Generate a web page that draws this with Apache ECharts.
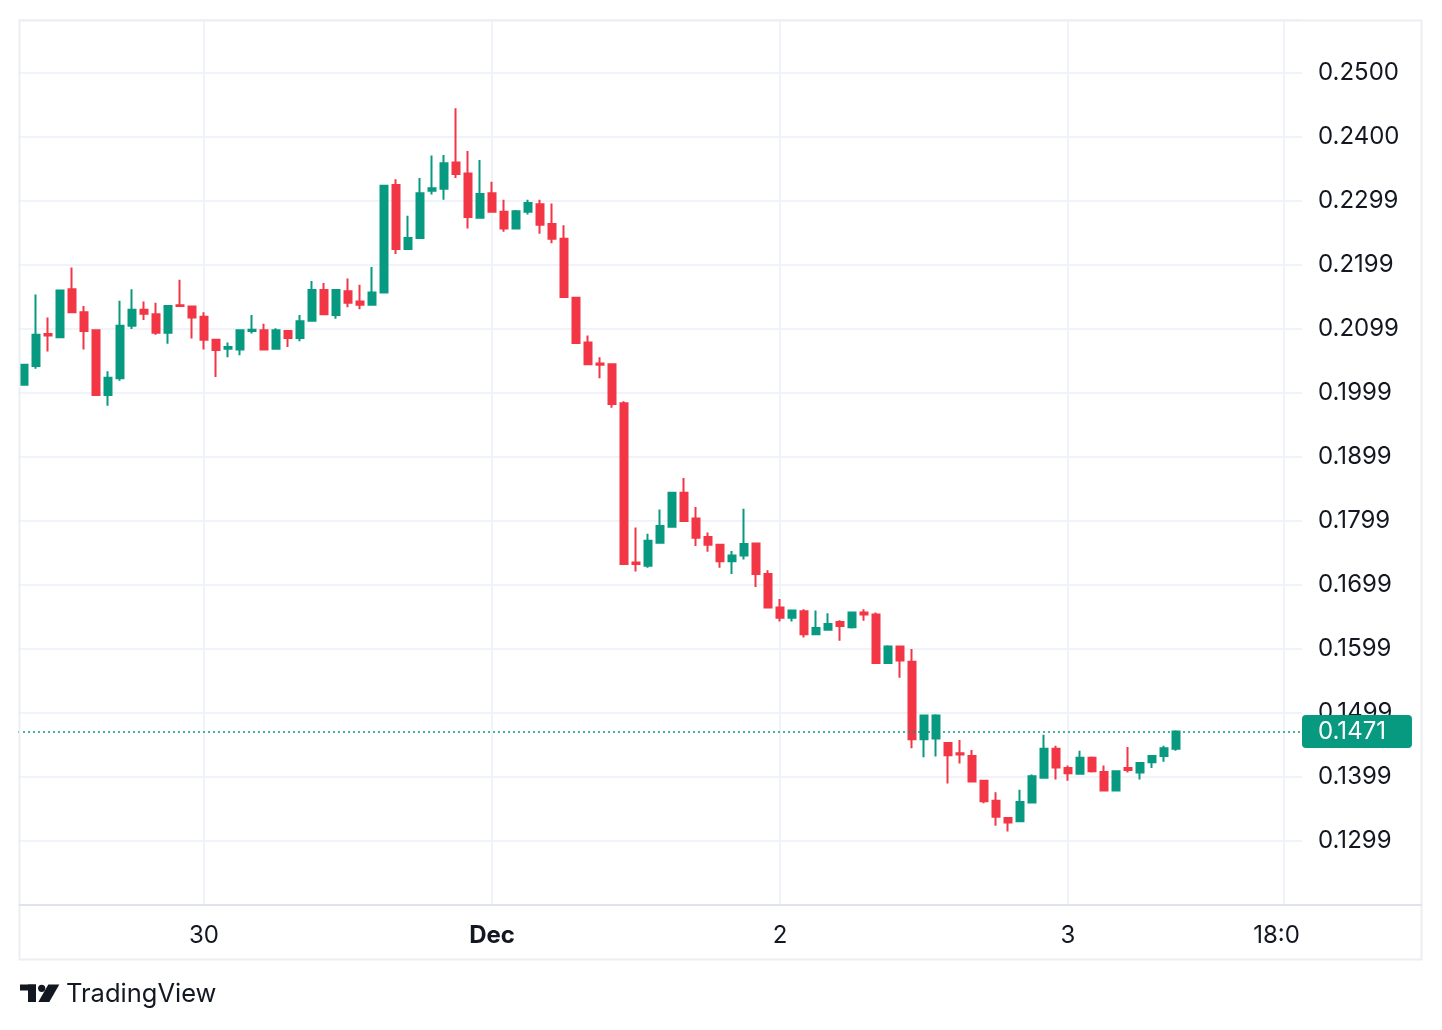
<!DOCTYPE html>
<html>
<head>
<meta charset="utf-8">
<script src="https://cdn.jsdelivr.net/npm/echarts@6/dist/echarts.min.js"></script>
<style>
html,body{margin:0;padding:0;background:#ffffff;}
#chart{width:1442px;height:1030px;}
</style>
</head>
<body>
<div id="chart"></div>
<script>
// Hourly candles, Nov 29 09:00 .. Dec 3 09:00
const opens  = [0.2013,0.2042,0.2092,0.2087,0.2162,0.2126,0.2098,0.1997,0.2023,0.2105,0.2130,0.2123,0.2094,0.2137,0.2135,0.2119,0.2083,0.2069,0.2068,0.2097,
                0.2098,0.2069,0.2097,0.2086,0.2113,0.2161,0.2122,0.2159,0.2143,0.2138,0.2157,0.2325,0.2225,0.2242,0.2316,0.2319,0.2360,0.2343,0.2274,0.2312,
                0.2283,0.2257,0.2283,0.2295,0.2264,0.2241,0.2149,0.2079,0.2046,0.2045,0.1984,0.1735,0.1730,0.1766,0.1791,0.1844,0.1804,0.1775,0.1763,0.1737,
                0.1746,0.1765,0.1717,0.1665,0.1649,0.1659,0.1623,0.1630,0.1642,0.1634,0.1657,0.1654,0.1578,0.1604,0.1580,0.1459,0.1460,0.1453,0.1437,0.1433,
                0.1394,0.1363,0.1336,0.1331,0.1360,0.1399,0.1444,0.1414,0.1405,0.1430,0.1408,0.1379,0.1414,0.1407,0.1423,0.1433,0.1444];
const closes = [0.2044,0.2091,0.2090,0.2160,0.2126,0.2097,0.1997,0.2024,0.2105,0.2130,0.2124,0.2094,0.2136,0.2136,0.2118,0.2083,0.2067,0.2072,0.2098,0.2099,
                0.2068,0.2098,0.2086,0.2112,0.2161,0.2123,0.2161,0.2141,0.2138,0.2157,0.2324,0.2225,0.2242,0.2312,0.2320,0.2359,0.2342,0.2275,0.2311,0.2283,
                0.2257,0.2284,0.2297,0.2263,0.2241,0.2150,0.2078,0.2045,0.2044,0.1983,0.1733,0.1733,0.1769,0.1792,0.1844,0.1800,0.1774,0.1763,0.1737,0.1746,
                0.1764,0.1717,0.1665,0.1649,0.1660,0.1623,0.1633,0.1639,0.1636,0.1657,0.1654,0.1578,0.1604,0.1582,0.1459,0.1496,0.1496,0.1434,0.1435,0.1393,
                0.1362,0.1338,0.1329,0.1361,0.1401,0.1444,0.1415,0.1406,0.1430,0.1409,0.1379,0.1409,0.1411,0.1422,0.1433,0.1445,0.1471];
const lows   = [0.2012,0.2038,0.2065,0.2086,0.2126,0.2068,0.1997,0.1980,0.2019,0.2100,0.2114,0.2091,0.2077,0.2135,0.2085,0.2068,0.2025,0.2056,0.2059,0.2093,
                0.2068,0.2069,0.2072,0.2081,0.2113,0.2123,0.2116,0.2134,0.2131,0.2138,0.2157,0.2217,0.2225,0.2242,0.2310,0.2302,0.2336,0.2257,0.2273,0.2283,
                0.2252,0.2257,0.2279,0.2249,0.2234,0.2150,0.2078,0.2045,0.2023,0.1977,0.1732,0.1721,0.1727,0.1766,0.1791,0.1799,0.1761,0.1752,0.1727,0.1717,
                0.1740,0.1697,0.1665,0.1643,0.1643,0.1618,0.1623,0.1629,0.1613,0.1632,0.1644,0.1578,0.1578,0.1555,0.1445,0.1431,0.1432,0.1390,0.1421,0.1393,
                0.1359,0.1324,0.1315,0.1330,0.1360,0.1399,0.1396,0.1394,0.1405,0.1407,0.1378,0.1378,0.1407,0.1396,0.1414,0.1424,0.1441];
const highs  = [0.2045,0.2154,0.2118,0.2160,0.2196,0.2136,0.2098,0.2034,0.2144,0.2162,0.2143,0.2141,0.2136,0.2177,0.2135,0.2126,0.2084,0.2079,0.2099,0.2122,
                0.2108,0.2101,0.2097,0.2122,0.2175,0.2172,0.2162,0.2179,0.2169,0.2197,0.2324,0.2334,0.2277,0.2336,0.2371,0.2372,0.2445,0.2378,0.2364,0.2330,
                0.2302,0.2286,0.2302,0.2302,0.2296,0.2262,0.2149,0.2090,0.2056,0.2046,0.1987,0.1790,0.1780,0.1818,0.1844,0.1867,0.1822,0.1782,0.1763,0.1753,
                0.1819,0.1766,0.1723,0.1678,0.1660,0.1662,0.1660,0.1656,0.1645,0.1658,0.1662,0.1657,0.1606,0.1604,0.1600,0.1497,0.1498,0.1453,0.1458,0.1442,
                0.1394,0.1376,0.1336,0.1380,0.1404,0.1466,0.1449,0.1418,0.1441,0.1432,0.1418,0.1410,0.1447,0.1422,0.1433,0.1449,0.1473];

const lastPrice = 0.1471;
const lastPriceLabel = '0.1471';

// Category (hour) axis: 97 candles + empty slots to the right edge
const startDay = 29, startHour = 9, totalSlots = 107;
const categories = [];
for (let i = 0; i < totalSlots; i++) {
  const h = startHour + i;
  const d = startDay + Math.floor(h / 24);
  categories.push('D' + d + ' ' + String(h % 24).padStart(2, '0') + ':00');
}
const xLabelIndex = [15, 39, 63, 87, 105];
const xLabelText  = ['30', 'Dec', '2', '3', '18:0'];
const xLabelStyle = ['', 'b', '', '', 'c'];

const yTickValues = [0.13, 0.14, 0.15, 0.16, 0.17, 0.18, 0.19, 0.20, 0.21, 0.22, 0.23, 0.24, 0.25];
const yTickLabels = ['0.1299','0.1399','0.1499','0.1599','0.1699','0.1799','0.1899','0.1999','0.2099','0.2199','0.2299','0.2400','0.2500'];

const candleData = opens.map((o, i) => [o, closes[i], lows[i], highs[i]]);

const UP = '#089981', DOWN = '#F23645', GRID = '#f0f3fa', TXT = '#131722';
const FS = 24;

const chart = echarts.init(document.getElementById('chart'), null, {renderer: 'canvas'});
chart.setOption({
  animation: false,
  backgroundColor: '#ffffff',
  grid: {left: 18, right: 140, top: 20, bottom: 125, containLabel: false},
  xAxis: {
    type: 'category',
    data: categories,
    boundaryGap: true,
    axisLine: {show: false},
    axisTick: {show: false},
    axisLabel: {
      interval: (idx) => xLabelIndex.indexOf(idx) >= 0,
      hideOverlap: false,
      margin: 19,
      fontFamily: 'Inter',
      fontSize: FS,
      color: TXT,
      formatter: (value, idx) => {
        const k = xLabelIndex.indexOf(idx);
        if (k < 0) return '';
        return xLabelStyle[k] ? '{' + xLabelStyle[k] + '|' + xLabelText[k] + '}' : xLabelText[k];
      },
      rich: {
        b: {fontFamily: 'Inter', fontSize: FS, fontWeight: 'bold', color: TXT},
        c: {fontFamily: 'Inter', fontSize: FS, color: TXT, padding: [0, 15, 0, 0]}
      }
    },
    splitLine: {
      show: true,
      alignWithLabel: true,
      interval: (idx) => xLabelIndex.indexOf(idx) >= 0,
      lineStyle: {color: GRID, width: 2}
    }
  },
  yAxis: {
    type: 'value',
    position: 'right',
    min: 0.12,
    max: 0.25828,
    interval: 0.01,
    axisLine: {show: false},
    axisTick: {show: false},
    axisLabel: {
      margin: 16,
      padding: [5, 0, 0, 0],
      fontFamily: 'Inter',
      fontSize: FS,
      color: TXT,
      formatter: (v) => {
        for (let i = 0; i < yTickValues.length; i++) {
          if (Math.abs(v - yTickValues[i]) < 1e-6) return yTickLabels[i];
        }
        return '';
      }
    },
    splitLine: {show: true, lineStyle: {color: GRID, width: 2}}
  },
  series: [{
    type: 'candlestick',
    data: candleData,
    barWidth: 8,
    clip: true,
    itemStyle: {color: UP, color0: DOWN, borderColor: UP, borderColor0: DOWN, borderWidth: 2},
    markLine: {
      silent: true,
      precision: 4,
      symbol: ['none', 'none'],
      lineStyle: {color: UP, type: [2, 3], width: 1.5},
      label: {
        show: true,
        position: 'end',
        distance: 0,
        formatter: lastPriceLabel,
        backgroundColor: UP,
        color: '#ffffff',
        fontFamily: 'Inter',
        fontSize: FS,
        lineHeight: 27,
        padding: [4, 26, 2, 16],
        borderRadius: 4
      },
      data: [{yAxis: lastPrice}]
    }
  }],
  graphic: [
    {type: 'rect', silent: true, z: 100, shape: {x: 19.5, y: 20.5, width: 1402, height: 939},
     style: {fill: 'none', stroke: '#eceef2', lineWidth: 2}},
    {type: 'line', silent: true, z: 100, shape: {x1: 19, y1: 905, x2: 1422, y2: 905},
     style: {stroke: '#e0e3eb', lineWidth: 2}},
    {type: 'rect', silent: true, shape: {x: 20, y: 984.5, width: 16, height: 6}, style: {fill: TXT}},
    {type: 'rect', silent: true, shape: {x: 28, y: 984.5, width: 8, height: 17.5}, style: {fill: TXT}},
    {type: 'circle', silent: true, shape: {cx: 41.7, cy: 988.3, r: 3.6}, style: {fill: TXT}},
    {type: 'polygon', silent: true, shape: {points: [[48.3, 984.5], [59.3, 984.5], [49.3, 1002], [38.3, 1002]]}, style: {fill: TXT}},
    {type: 'text', silent: true, left: 66, top: 981,
     style: {text: 'TradingView', fontFamily: 'Inter', fontSize: 25.5, fill: TXT}}
  ]
});
</script>
</body>
</html>
